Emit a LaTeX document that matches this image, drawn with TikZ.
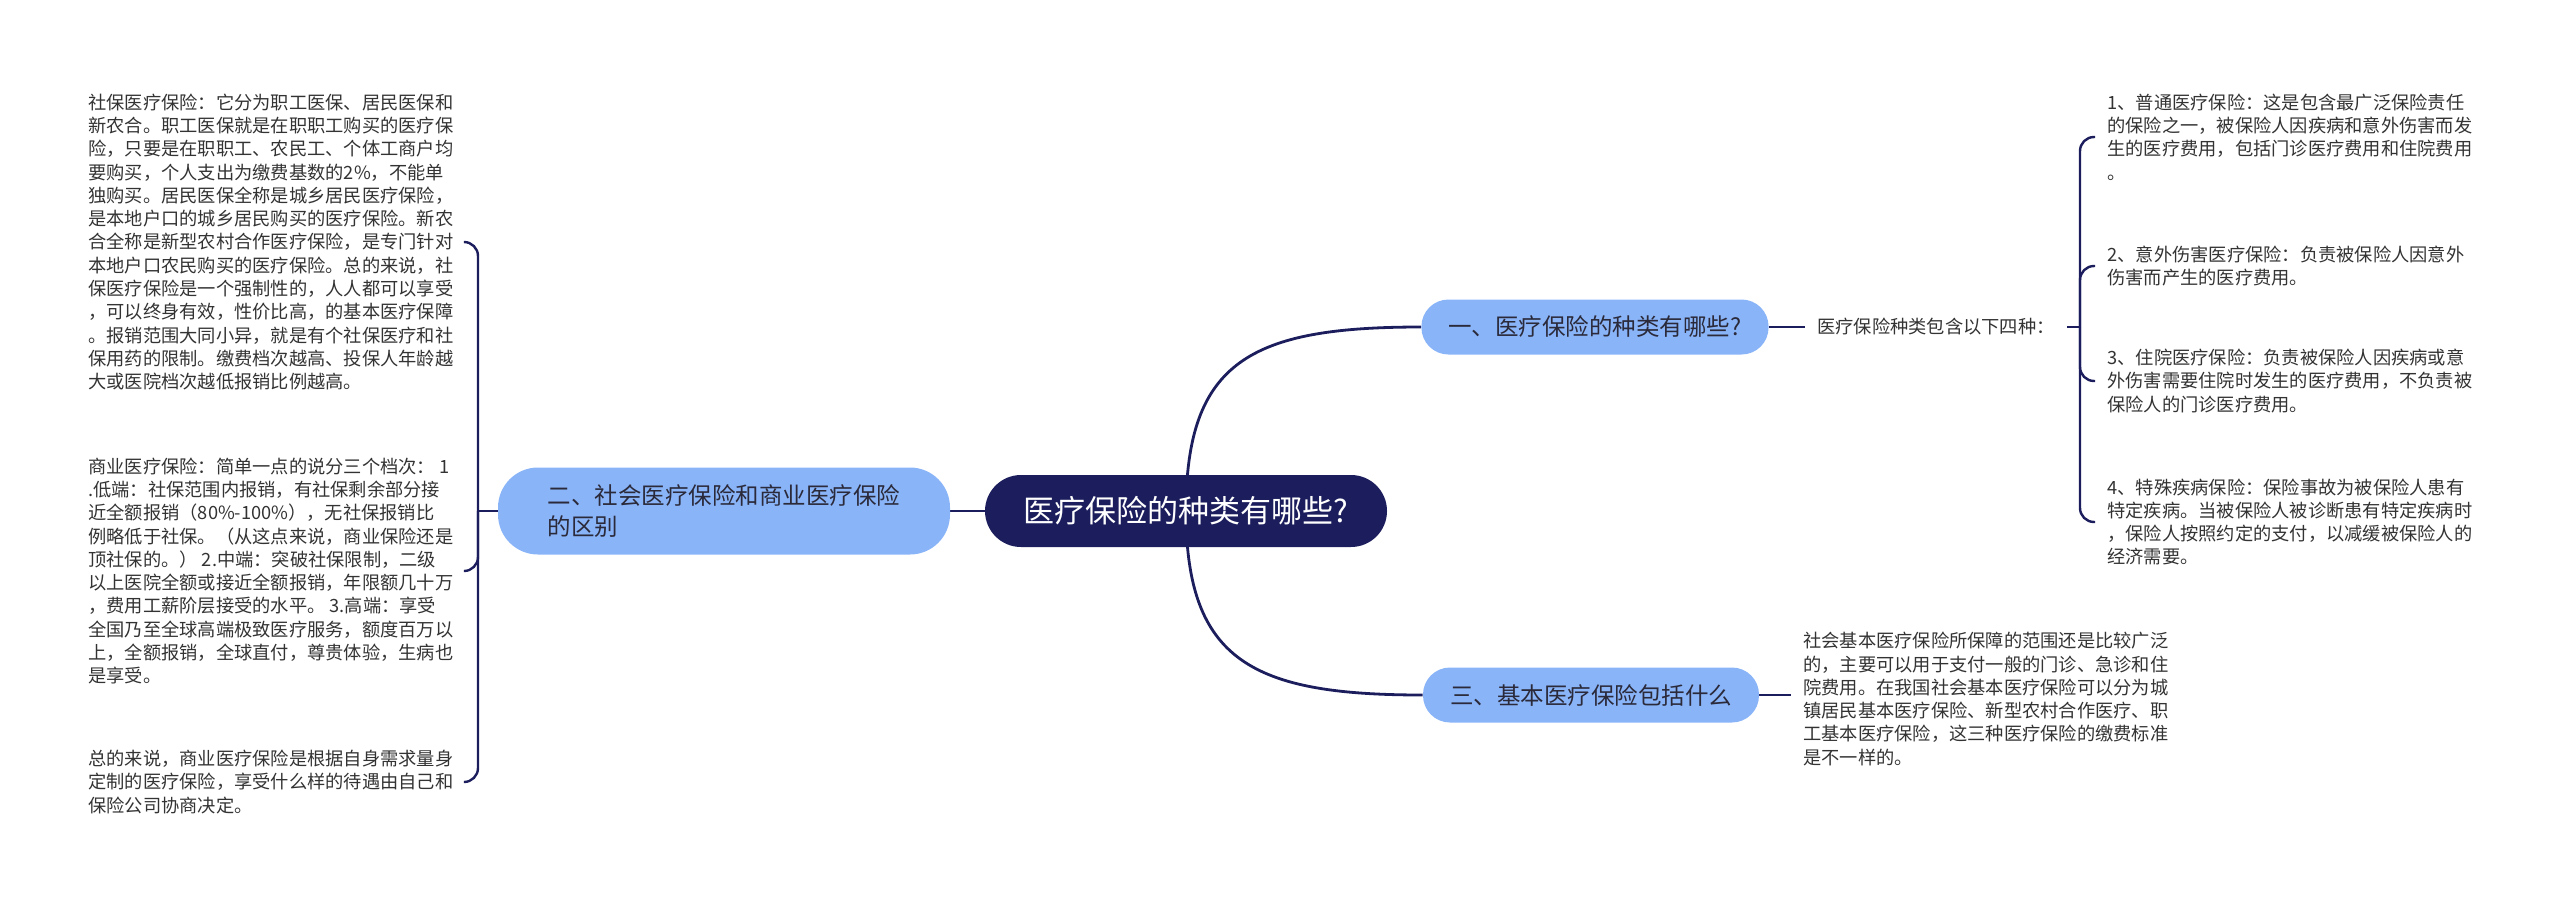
\documentclass[tikz,border=0pt]{standalone}
\usepackage{fontspec}
\setmainfont{Noto Sans CJK SC}
\usetikzlibrary{backgrounds}
\definecolor{navy}{HTML}{1B1D5C}
\definecolor{skyblue}{HTML}{8AB4F8}
\definecolor{inkgray}{HTML}{333333}
\definecolor{branchtext}{HTML}{2A2A3A}

\begin{document}
\begin{tikzpicture}[x=0.5pt, y=-0.5pt,
    rootbox/.style={fill=navy, text=white, rounded corners=18pt, minimum width=201pt,
      minimum height=36pt, font=\fontsize{15.5pt}{18pt}\selectfont},
    branchbox/.style={fill=skyblue, text=branchtext, rounded corners=13.5pt, inner xsep=13.5pt,
      minimum height=27.5pt, font=\fontsize{11.75pt}{15.5pt}\selectfont},
    leaf/.style={text=inkgray, align=left, inner xsep=6pt, inner ysep=0pt,
      font=\fontsize{9.125pt}{11.65pt}\selectfont},
    link/.style={navy, line width=1.4pt},
    fork/.style={navy, line width=1.2pt, rounded corners=7pt}]
    \useasboundingbox (0,0) rectangle (2560,905);

    % Root
    \node[rootbox] (root) at (1186,511) {医疗保险的种类有哪些?};

    % Branches
    \node[branchbox] (kindsq) at (1595,327) {一、医疗保险的种类有哪些?};
    \node[branchbox, rounded corners=20pt, minimum width=226pt, minimum height=43.5pt,
      inner xsep=22pt, align=left] (diffq) at (724,511)
      {二、社会医疗保险和商业医疗保险\\的区别};
    \node[branchbox] (basicq) at (1591,695) {三、基本医疗保险包括什么};

    % Right side: four kinds
    \node[leaf, anchor=west] (kinds) at (1805,327) {医疗保险种类包含以下四种：};
    \node[leaf, anchor=west] (kind1) at (2095,137) {1、普通医疗保险：这是包含最广泛保险责任\\的保险之一，被保险人因疾病和意外伤害而发\\生的医疗费用，包括门诊医疗费用和住院费用\\。};
    \node[leaf, anchor=west] (kind2) at (2095,266) {2、意外伤害医疗保险：负责被保险人因意外\\伤害而产生的医疗费用。};
    \node[leaf, anchor=west] (kind3) at (2095,381) {3、住院医疗保险：负责被保险人因疾病或意\\外伤害需要住院时发生的医疗费用，不负责被\\保险人的门诊医疗费用。};
    \node[leaf, anchor=west] (kind4) at (2095,522) {4、特殊疾病保险：保险事故为被保险人患有\\特定疾病。当被保险人被诊断患有特定疾病时\\，保险人按照约定的支付，以减缓被保险人的\\经济需要。};

    % Right side: basic insurance
    \node[leaf, anchor=west] (basic) at (1791,699) {社会基本医疗保险所保障的范围还是比较广泛\\的，主要可以用于支付一般的门诊、急诊和住\\院费用。在我国社会基本医疗保险可以分为城\\镇居民基本医疗保险、新型农村合作医疗、职\\工基本医疗保险，这三种医疗保险的缴费标准\\是不一样的。};

    % Left side
    \node[leaf, anchor=west] (social) at (76,242) {社保医疗保险：它分为职工医保、居民医保和\\新农合。职工医保就是在职职工购买的医疗保\\险，只要是在职职工、农民工、个体工商户均\\要购买，个人支出为缴费基数的2\%，不能单\\独购买。居民医保全称是城乡居民医疗保险，\\是本地户口的城乡居民购买的医疗保险。新农\\合全称是新型农村合作医疗保险，是专门针对\\本地户口农民购买的医疗保险。总的来说，社\\保医疗保险是一个强制性的，人人都可以享受\\，可以终身有效，性价比高，的基本医疗保障\\。报销范围大同小异，就是有个社保医疗和社\\保用药的限制。缴费档次越高、投保人年龄越\\大或医院档次越低报销比例越高。};
    \node[leaf, anchor=west] (commerce) at (76,571) {商业医疗保险：简单一点的说分三个档次： 1\\.低端：社保范围内报销，有社保剩余部分接\\近全额报销（80\%-100\%），无社保报销比\\例略低于社保。（从这点来说，商业保险还是\\顶社保的。） 2.中端：突破社保限制，二级\\以上医院全额或接近全额报销，年限额几十万\\，费用工薪阶层接受的水平。 3.高端：享受\\全国乃至全球高端极致医疗服务，额度百万以\\上，全额报销，全球直付，尊贵体验，生病也\\是享受。};
    \node[leaf, anchor=west] (summary) at (76,782) {总的来说，商业医疗保险是根据自身需求量身\\定制的医疗保险，享受什么样的待遇由自己和\\保险公司协商决定。};

    % Connectors
    \begin{scope}[on background layer]
      \draw[link] (root.center) .. controls +(0,-150) and +(-170,0) .. (kindsq.west);
      \draw[link] (root.center) .. controls +(0,150) and +(-170,0) .. (basicq.west);
      \draw[link] (root.west) -- (diffq.east);

      \draw[link] (kindsq.east) -- (kinds.west);
      \coordinate (rfork) at (2080,327);
      \draw[link] (kinds.east) -- (rfork);
      \foreach \k in {kind1,kind2,kind3,kind4}
        \draw[fork] (rfork) |- (\k.west);

      \draw[link] (basicq.east) -- (basicq.east -| basic.west);

      \coordinate (lfork) at (478,511);
      \draw[link] (diffq.west) -- (lfork);
      \foreach \k in {social,commerce,summary}
        \draw[fork] (lfork) |- (\k.east);
    \end{scope}
\end{tikzpicture}
\end{document}
